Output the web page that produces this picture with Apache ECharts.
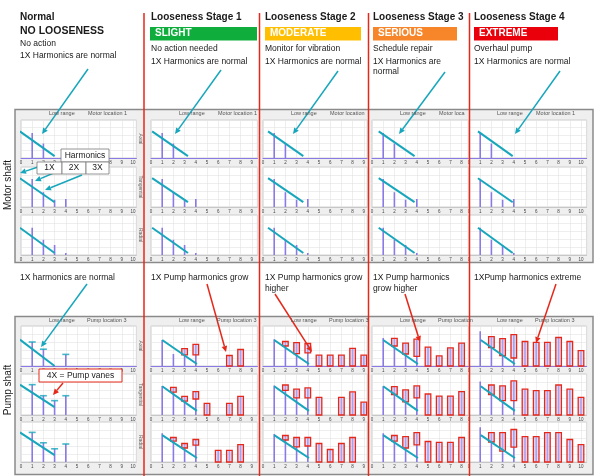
<!DOCTYPE html>
<html><head><meta charset="utf-8">
<script src="https://cdn.jsdelivr.net/npm/echarts@6/dist/echarts.min.js"></script>
<style>html,body{margin:0;padding:0;background:#fff}#c{width:600px;height:476px}</style>
</head><body><div id="c"></div>
<script>
// ================= DATA =================
const stageTitles = ['Normal', 'Looseness Stage 1', 'Looseness Stage 2', 'Looseness Stage 3', 'Looseness Stage 4'];
const severityLabels = ['NO LOOSENESS', 'SLIGHT', 'MODERATE', 'SERIOUS', 'EXTREME'];
const actions = ['No action', 'No action needed', 'Monitor for vibration', 'Schedule repair', 'Overhaul pump'];
const motorNotes = ['1X Harmonics are normal', '1X Harmonics are normal', '1X Harmonics are normal', '1X Harmonics are\nnormal', '1X Harmonics are normal'];
const pumpNotes = ['1X harmonics are normal', '1X Pump harmonics grow', '1X Pump harmonics grow\nhigher', '1X Pump harmonics\ngrow higher', '1XPump harmonics extreme'];
const directions = ['Axial', 'Tangential', 'Radial'];
const shaftLabels = ['Motor shaft', 'Pump shaft'];
const rangeLabel = 'Low range';
const motorLocationLabels = ['Motor location 1', 'Motor location 1', 'Motor location', 'Motor loca', 'Motor location 1'];
const pumpLocationLabels = ['Pump location 3', 'Pump location 3', 'Pump location 3', 'Pump location', 'Pump location 3'];
const harmonicsTitle = 'Harmonics';
const harmonicLabels = ['1X', '2X', '3X'];
const vaneLabel = '4X = Pump vanes';
const xAxisMax = [10.3, 9.5, 9.3, 8.6, 10.5];

// Motor shaft spectra: [harmonic order, amplitude] (same at every stage)
const motorAxial = [[1, 0.66], [2, 0.38]];
const motorTangential = [[1, 0.7], [2, 0.37], [3, 0.18], [4, 0.2]];
const motorRadial = [[1, 0.68], [2, 0.38], [3, 0.25], [4, 0.05]];

// Pump shaft, normal state: [harmonic order, amplitude]
const normalPumpAxial = [[1, 0.6], [2, 0.42], [4, 0.29]];
const normalPumpTangential = [[1, 0.74], [2, 0.47], [3, 0.35], [4, 0.47]];
const normalPumpRadial = [[1, 0.74], [2, 0.48], [3, 0.33], [4, 0.45]];

// Pump 1X amplitude per stage (axial, tangential, radial)
const stage1OneX = [0.65, 0.71, 0.72];
const stage2OneX = [0.67, 0.72, 0.7];
const stage3OneX = [0.7, 0.7, 0.72];
const stage4OneX = [0.87, 0.82, 0.87];
const stage1AxialExtra = [[2, 0.3]];

// Highlighted (boxed) harmonics: [harmonic order, low, high]
const stage1Axial = [[3, 0.28, 0.42], [4, 0.28, 0.53], [7, 0, 0.25], [8, 0, 0.4]];
const stage1Tangential = [[2, 0.56, 0.66], [3, 0.34, 0.44], [4, 0.39, 0.56], [5, 0, 0.27], [7, 0, 0.27], [8, 0, 0.44]];
const stage1Radial = [[2, 0.52, 0.6], [3, 0.35, 0.45], [4, 0.42, 0.55], [6, 0, 0.28], [7, 0, 0.28], [8, 0, 0.42]];
const stage2Axial = [[2, 0.5, 0.6], [3, 0.31, 0.57], [4, 0.33, 0.55], [5, 0, 0.26], [6, 0, 0.26], [7, 0, 0.26], [8, 0, 0.43], [9, 0, 0.26]];
const stage2Tangential = [[2, 0.6, 0.72], [3, 0.42, 0.62], [4, 0.42, 0.65], [5, 0, 0.42], [7, 0, 0.42], [8, 0, 0.55], [9, 0, 0.3]];
const stage2Radial = [[2, 0.55, 0.65], [3, 0.38, 0.6], [4, 0.4, 0.6], [5, 0, 0.45], [6, 0, 0.3], [7, 0, 0.45], [8, 0, 0.6]];
const stage3Axial = [[2, 0.5, 0.68], [3, 0.3, 0.56], [4, 0.24, 0.66], [5, 0, 0.46], [6, 0, 0.24], [7, 0, 0.44], [8, 0, 0.56]];
const stage3Tangential = [[2, 0.5, 0.68], [3, 0.32, 0.6], [4, 0.42, 0.7], [5, 0, 0.5], [6, 0, 0.45], [7, 0, 0.45], [8, 0, 0.56]];
const stage3Radial = [[2, 0.52, 0.65], [3, 0.35, 0.62], [4, 0.43, 0.72], [5, 0, 0.5], [6, 0, 0.48], [7, 0, 0.48], [8, 0, 0.6]];
const stage4Axial = [[2, 0.46, 0.72], [3, 0.26, 0.67], [4, 0.2, 0.77], [5, 0, 0.6], [6, 0, 0.58], [7, 0, 0.58], [8, 0, 0.7], [9, 0, 0.6], [10, 0, 0.37]];
const stage4Tangential = [[2, 0.5, 0.72], [3, 0.35, 0.7], [4, 0.35, 0.82], [5, 0, 0.62], [6, 0, 0.58], [7, 0, 0.58], [8, 0, 0.72], [9, 0, 0.62], [10, 0, 0.42]];
const stage4Radial = [[2, 0.5, 0.72], [3, 0.27, 0.72], [4, 0.37, 0.8], [5, 0, 0.62], [6, 0, 0.62], [7, 0, 0.72], [8, 0, 0.72], [9, 0, 0.55], [10, 0, 0.42]];

// Trend (decay) guide lines: x endpoints per column, y endpoints per direction
const motorTrendX = [[-0.1, 3.0], [0.1, 3.3], [0.45, 3.6], [0.6, 3.8], [0.8, 3.9]];
const motorTrendY = [[0.7, 0.05], [0.72, 0.12], [0.68, 0.05]];
const pumpTrendX = [[-0.1, 3.0], [1.0, 4.1], [1.0, 4.1], [1.0, 4.1], [1.05, 4.1]];
const normalPumpTrendY = [[0.66, 0.0], [0.74, 0.19], [0.74, 0.17]];
const stagePumpTrendY = [[0.65, 0.05], [0.7, 0.1], [0.67, 0.1]];

// ================= STYLE / LAYOUT =================
const FONT = '"Liberation Sans", Arial, Helvetica, sans-serif';
const CYAN = '#17a6bb', RED = '#e6281b', PURPLE = '#8a7ae4';
const sevColors = [null, '#0fae3c', '#ffbf00', '#f7862a', '#e9000b'];
const colText = [20, 151, 265, 373, 474];
const sevBox = [null, [150, 107], [265, 96], [373, 84], [474, 84]];
const colX0 = [21, 151, 263, 372, 469];
const UNIT = 11.2;
const rowTop = [[120, 167, 215], [326, 374, 422]];
const rowH = [[38, 40, 40], [40, 41, 40]];
const sepX = [144, 259.5, 368.5, 469.5];

const motorSpectra = [motorAxial, motorTangential, motorRadial];
const normalPump = [normalPumpAxial, normalPumpTangential, normalPumpRadial];
const stageOneX = [stage1OneX, stage2OneX, stage3OneX, stage4OneX];
const stageBoxes = [
  [stage1Axial, stage1Tangential, stage1Radial],
  [stage2Axial, stage2Tangential, stage2Radial],
  [stage3Axial, stage3Tangential, stage3Radial],
  [stage4Axial, stage4Tangential, stage4Radial]
];

const grids = [], xAxes = [], yAxes = [], series = [];
let gi = 0;
for (let p = 0; p < 2; p++) {
  for (let r = 0; r < 3; r++) {
    for (let c = 0; c < 5; c++) {
      grids.push({
        left: colX0[c], top: rowTop[p][r], width: xAxisMax[c] * UNIT, height: rowH[p][r],
        show: true, backgroundColor: '#fff', borderColor: '#b5b5b5', borderWidth: 0.6, containLabel: false
      });
      xAxes.push({
        type: 'value', gridIndex: gi, min: 0, max: xAxisMax[c], interval: 1,
        axisLine: { show: true, onZero: false, lineStyle: { color: r === 0 ? PURPLE : '#b5b5b5', width: r === 0 ? 1.2 : 0.6 } },
        axisTick: { show: false },
        axisLabel: { fontSize: 4.5, color: '#444', margin: 2.5, fontFamily: FONT,
          formatter: v => Number.isInteger(v) ? String(v) : '' },
        splitLine: { show: true, lineStyle: { color: '#e2e2e2', width: 0.6 } }
      });
      yAxes.push({
        type: 'value', gridIndex: gi, min: 0, max: 1, interval: 0.2,
        axisLine: { show: false }, axisTick: { show: false }, axisLabel: { show: false },
        splitLine: { show: true, lineStyle: { color: '#e2e2e2', width: 0.6 } }
      });

      // spectra
      let spikes = [], boxes = [], trend;
      if (p === 0) {
        spikes = motorSpectra[r].slice();
        trend = [[motorTrendX[c][0], motorTrendY[r][0]], [motorTrendX[c][1], motorTrendY[r][1]]];
      } else if (c === 0) {
        spikes = normalPump[r].slice();
        trend = [[pumpTrendX[0][0], normalPumpTrendY[r][0]], [pumpTrendX[0][1], normalPumpTrendY[r][1]]];
      } else {
        spikes = [[1, stageOneX[c - 1][r]]];
        if (c === 1 && r === 0) spikes = spikes.concat(stage1AxialExtra);
        boxes = stageBoxes[c - 1][r];
        boxes.forEach(b => spikes.push([b[0], b[2]]));
        trend = [[pumpTrendX[c][0], stagePumpTrendY[r][0]], [pumpTrendX[c][1], stagePumpTrendY[r][1]]];
      }
      series.push({
        type: 'bar', xAxisIndex: gi, yAxisIndex: gi, data: spikes, barWidth: 1.6,
        itemStyle: { color: PURPLE }, z: 2, silent: true
      });
      if (boxes.length) {
        series.push({
          type: 'custom', xAxisIndex: gi, yAxisIndex: gi, data: boxes, z: 4, silent: true,
          encode: { x: 0, y: [1, 2] },
          renderItem: (params, api) => {
            const x = api.value(0), lo = api.value(1), hi = api.value(2);
            const top = api.coord([x, hi]), bot = api.coord([x, lo]);
            const w = 5.6;
            return { type: 'rect', shape: { x: top[0] - w / 2, y: top[1] - 0.5, width: w, height: bot[1] - top[1] + 0.5 },
              style: { fill: 'rgba(200,190,242,0.55)', stroke: RED, lineWidth: 1.3 } };
          }
        });
      }
      if (p === 1 && c === 0) {
        series.push({
          type: 'scatter', xAxisIndex: gi, yAxisIndex: gi, data: spikes, symbol: 'rect',
          symbolSize: [7, 1.6], itemStyle: { color: CYAN }, z: 5, silent: true
        });
      }
      series.push({
        type: 'line', xAxisIndex: gi, yAxisIndex: gi, data: trend, symbol: 'none', clip: false,
        lineStyle: { color: CYAN, width: 2 }, z: 6, silent: true
      });
      gi++;
    }
  }
}

// ================= ANNOTATIONS =================
const g = [];
function txt(x, y, text, size, opts) {
  g.push(Object.assign({ type: 'text', x: x, y: y, z: 100,
    style: Object.assign({ text: text, fontSize: size, fontFamily: FONT, fill: '#1a1a1a', verticalAlign: 'top', align: 'left' }, (opts && opts.style) || {}) },
    opts && opts.rotation !== undefined ? { rotation: opts.rotation } : {}));
}
function arrow(x1, y1, x2, y2, color) {
  const a = Math.atan2(y2 - y1, x2 - x1), L = 6, W = 2.8;
  const bx = x2 - L * Math.cos(a), by = y2 - L * Math.sin(a);
  const px = -Math.sin(a) * W, py = Math.cos(a) * W;
  g.push({ type: 'line', z: 100, shape: { x1: x1, y1: y1, x2: bx, y2: by }, style: { stroke: color, lineWidth: 1.5 } });
  g.push({ type: 'polygon', z: 100, shape: { points: [[x2, y2], [bx + px, by + py], [bx - px, by - py]] }, style: { fill: color } });
}

// panel frames
g.push({ type: 'rect', z: -10, shape: { x: 15, y: 109.5, width: 578, height: 153 }, style: { fill: '#efefef', stroke: '#8a8a8a', lineWidth: 1.5 } });
g.push({ type: 'rect', z: -10, shape: { x: 15, y: 316.5, width: 578, height: 158 }, style: { fill: '#efefef', stroke: '#8a8a8a', lineWidth: 1.5 } });

// headers
for (let c = 0; c < 5; c++) {
  const x = colText[c];
  txt(x, 12, stageTitles[c], 10, { style: { fontWeight: 'bold' } });
  if (c === 0) {
    txt(x, 26, severityLabels[0], 10.5, { style: { fontWeight: 'bold' } });
    txt(x, 39.5, actions[0], 8.5);
    txt(x, 51.5, motorNotes[0], 8.5);
  } else {
    g.push({ type: 'rect', z: 90, shape: { x: sevBox[c][0], y: 27, width: sevBox[c][1], height: 13.5 }, style: { fill: sevColors[c] } });
    txt(sevBox[c][0] + 5, 28.5, severityLabels[c], 10, { style: { fontWeight: 'bold', fill: '#fff' } });
    txt(x, 44.5, actions[c], 8.5);
    txt(x, 56.5, motorNotes[c], 8.5, { style: { lineHeight: 10 } });
  }
  txt(x, 272.5, pumpNotes[c], 8.5, { style: { lineHeight: 11 } });
  // panel sub-headers
  txt(colX0[c] + 28, 110.5, rangeLabel, 5.5, { style: { fill: '#555' } });
  txt(colX0[c] + 67, 110.5, motorLocationLabels[c], 5.5, { style: { fill: '#555' } });
  txt(colX0[c] + 28, 317.5, rangeLabel, 5.5, { style: { fill: '#555' } });
  txt(colX0[c] + 66, 317.5, pumpLocationLabels[c], 5.5, { style: { fill: '#555' } });
}
// direction labels (right strip of first column)
for (let p = 0; p < 2; p++) for (let r = 0; r < 3; r++) {
  txt(140.5, rowTop[p][r] + rowH[p][r] / 2, directions[r], 5, { rotation: -Math.PI / 2, style: { fill: '#666', align: 'center', verticalAlign: 'middle' } });
}
// shaft labels
txt(8.5, 185, shaftLabels[0], 10, { rotation: Math.PI / 2, style: { align: 'center', verticalAlign: 'middle' } });
txt(8.5, 390, shaftLabels[1], 10, { rotation: Math.PI / 2, style: { align: 'center', verticalAlign: 'middle' } });

// red separators
sepX.forEach(x => g.push({ type: 'line', z: 95, shape: { x1: x, y1: 13, x2: x, y2: 476 }, style: { stroke: RED, lineWidth: 1.5 } }));

// arrows
[[88, 69, 42, 134], [221, 70, 175, 134], [338, 71, 293, 134], [445, 72, 399, 134], [560, 71, 515, 134], [87, 284, 41, 347]]
  .forEach(a => arrow(a[0], a[1], a[2], a[3], CYAN));
[[207, 284, 226, 352], [275, 294, 312, 352], [405, 294, 420, 342], [556, 284, 536, 343]]
  .forEach(a => arrow(a[0], a[1], a[2], a[3], RED));

// harmonics legend table
arrow(38, 167, 20, 173, CYAN);
arrow(56, 172, 35, 181, CYAN);
arrow(82, 175, 45, 190, CYAN);
g.push({ type: 'rect', z: 101, shape: { x: 61, y: 149, width: 48, height: 13 }, style: { fill: '#fff', stroke: '#7a7a7a', lineWidth: 0.8 } });
txt(85, 155.5, harmonicsTitle, 8.5, { style: { align: 'center', verticalAlign: 'middle' } });
const cellX = [37, 62, 86, 109];
for (let i = 0; i < 3; i++) {
  g.push({ type: 'rect', z: 101, shape: { x: cellX[i], y: 162, width: cellX[i + 1] - cellX[i], height: 12 }, style: { fill: '#fff', stroke: '#7a7a7a', lineWidth: 0.8 } });
  txt((cellX[i] + cellX[i + 1]) / 2, 168, harmonicLabels[i], 8.5, { style: { align: 'center', verticalAlign: 'middle' } });
}
g[g.length - 1].z = 102; 
// pump vanes callout
arrow(63, 383, 53, 395, RED);
g.push({ type: 'rect', z: 101, shape: { x: 39, y: 369, width: 83, height: 13 }, style: { fill: '#fff', stroke: RED, lineWidth: 1 } });
txt(80.5, 375.5, vaneLabel, 8.5, { style: { align: 'center', verticalAlign: 'middle' } });
// make all texts sit above boxes
g.forEach(e => { if (e.type === 'text') e.z = 110; });

const chart = echarts.init(document.getElementById('c'), null, { renderer: 'canvas' });
chart.setOption({
  animation: false,
  backgroundColor: '#fff',
  grid: grids, xAxis: xAxes, yAxis: yAxes, series: series,
  graphic: { elements: g }
});
</script>
</body></html>
